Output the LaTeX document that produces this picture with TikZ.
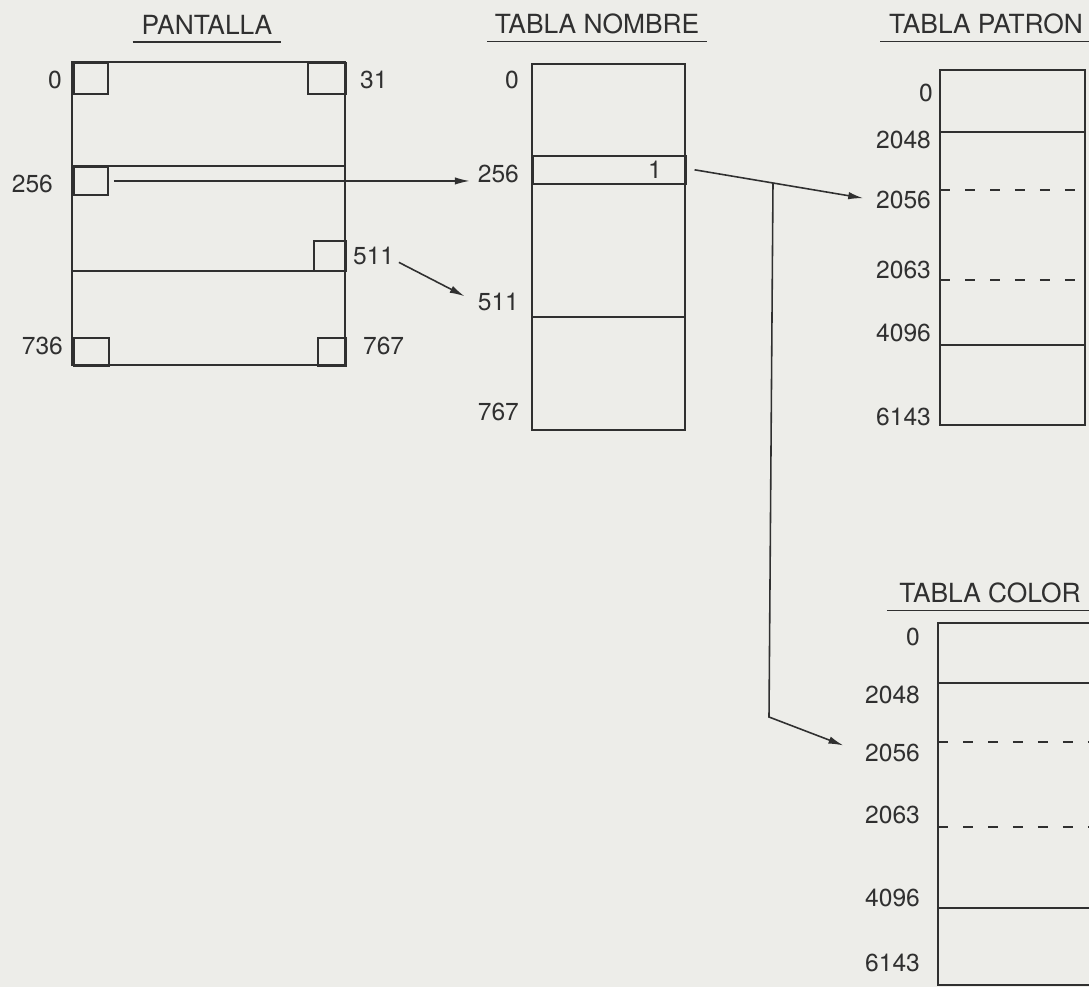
\documentclass[tikz,border=0pt]{standalone}
\usepackage{fontspec}
\setmainfont{TeX Gyre Heros}
\usepackage{xcolor}
\usepackage{tikz}
\usetikzlibrary{positioning,arrows.meta}

\definecolor{paper}{RGB}{237,237,233}
\definecolor{ink}{RGB}{48,48,48}

\begin{document}
\begin{tikzpicture}[
  x=0.02cm, y=-0.02cm,
  font=\fontsize{14}{16}\selectfont,
  ttl/.style={font=\fontsize{15}{17}\selectfont, text=ink, inner sep=1pt},
  num/.style={text=ink, inner sep=1pt},
  mem/.style={draw=ink, line width=1.2pt},
  sep/.style={draw=ink, line width=0.9pt},
  dsep/.style={sep, dash pattern=on 0.2cm off 0.3cm},
  uline/.style={draw=ink, line width=1pt},
  cell/.style={draw=ink, line width=1.1pt, anchor=north west, inner sep=0pt},
  arr/.style={-{Latex[length=3mm,width=1.5mm]}, draw=ink, line width=0.9pt},
]
\fill[paper] (0,0) rectangle (1089,987);
\useasboundingbox (0,0) rectangle (1089,987);
\clip (0,0) rectangle (1089,987);

% pantalla
\node[ttl] (tPan) at (207,25) {PANTALLA};
\draw[uline] ([xshift=-4pt,yshift=-3pt]tPan.south west) -- ([xshift=4pt,yshift=-3pt]tPan.south east);
\draw[mem] (72,62) rectangle (345,365);
\draw[sep] (72,166) -- (345,166);
\draw[sep] (72,271) -- (345,271);
\node[cell, minimum width=0.68cm, minimum height=0.62cm] (c0) at (73,62) {};
\node[cell, minimum width=0.76cm, minimum height=0.62cm] (c31) at (307,62) {};
\node[cell, minimum width=0.68cm, minimum height=0.56cm] (c256) at (73,166) {};
\node[cell, minimum width=0.64cm, minimum height=0.60cm] (c511) at (313,240) {};
\node[cell, minimum width=0.70cm, minimum height=0.56cm] (c736) at (73,337) {};
\node[cell, minimum width=0.56cm, minimum height=0.56cm] (c767) at (317,337) {};
\node[num, anchor=east] (p0) at (64,80) {0};
\node[num, anchor=west] (p31) at (358,80) {31};
\node[num, anchor=east] (p256) at (55,184) {256};
\node[num, anchor=west] (p511) at (351,256) {511};
\node[num, anchor=east] (p736) at (65,346) {736};
\node[num, anchor=west] (p767) at (361,346) {767};

% tabla nombre
\node[ttl] (tNom) at (597,24) {TABLA NOMBRE};
\draw[uline] ([xshift=-3pt,yshift=-3pt]tNom.south west) -- ([xshift=3pt,yshift=-3pt]tNom.south east);
\draw[mem] (532,64) rectangle (685,430);
\node[cell, minimum width=3.06cm, minimum height=0.56cm, line width=0.9pt] (row1) at (532,155) {};
\draw[sep] (532,317) -- (685,317);
\node[num, anchor=east] (one) at (664,170) {1};
\node[num, anchor=east] (n0) at (521,80) {0};
\node[num, anchor=east] (n256) at (521,174) {256};
\node[num, anchor=east] (n511) at (521,302) {511};
\node[num, anchor=east] (n767) at (521,412) {767};

% tabla patron
\node[ttl] (tPat) at (986,24) {TABLA PATRON};
\draw[uline] ([xshift=-4pt,yshift=-3pt]tPat.south west) -- ([xshift=6pt,yshift=-3pt]tPat.south east);
\draw[mem] (940,70) rectangle (1085,425);
\draw[sep] (940,132) -- (1085,132);
\draw[dsep] (940,190) -- (1085,190);
\draw[dsep] (940,280) -- (1085,280);
\draw[sep] (940,345) -- (1085,345);
\node[num, anchor=east] (q0) at (935,93) {0};
\node[num, anchor=east] (q2048) at (933,140) {2048};
\node[num, anchor=east] (q2056) at (933,200) {2056};
\node[num, anchor=east] (q2063) at (933,270) {2063};
\node[num, anchor=east] (q4096) at (933,333) {4096};
\node[num, anchor=east] (q6143) at (933,417) {6143};

% tabla color
\node[ttl] (tCol) at (990,593) {TABLA COLOR};
\draw[uline] ([xshift=-6pt,yshift=-3pt]tCol.south west) -- ([xshift=8pt,yshift=-3pt]tCol.south east);
\draw[mem] (938,623) rectangle (1120,985);
\draw[sep] (938,683) -- (1120,683);
\draw[dsep] (938,742) -- (1120,742);
\draw[dsep] (938,827) -- (1120,827);
\draw[sep] (938,908) -- (1120,908);
\node[num, anchor=east] (k0) at (922,637) {0};
\node[num, anchor=east] (k2048) at (922,695) {2048};
\node[num, anchor=east] (k2056) at (922,753) {2056};
\node[num, anchor=east] (k2063) at (922,815) {2063};
\node[num, anchor=east] (k4096) at (922,898) {4096};
\node[num, anchor=east] (k6143) at (922,963) {6143};

% connectors
\coordinate (br) at (773,183);
\coordinate (bend) at (769,717);
\draw[arr, shorten >=0.12cm] ([xshift=0.1cm]c256.east) -- (c256.east -| n256.west);
\draw[arr, shorten <=0.06cm, shorten >=0.25cm] ([yshift=-0.1cm]p511.east) -- (n511.west);
\draw[arr, shorten >=0.22cm] ([xshift=0.16cm]row1.east) -- (br) -- (q2056.west);
\draw[arr, shorten >=0.42cm] (br) -- (bend) -- (k2056.west);
\end{tikzpicture}
\end{document}
